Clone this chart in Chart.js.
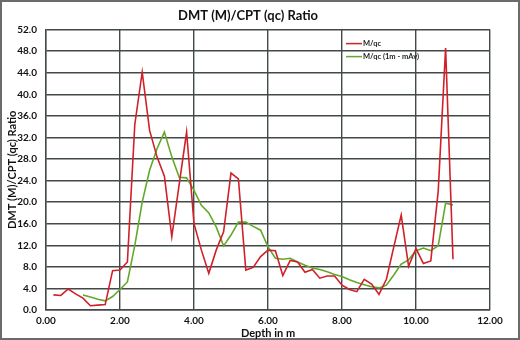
<!DOCTYPE html>
<html>
<head>
<meta charset="utf-8">
<script src="https://cdn.jsdelivr.net/npm/chart.js@4"></script>
<style>
  html, body { margin: 0; padding: 0; background: #fff; }
  #wrap { position: relative; width: 520px; height: 340px; box-sizing: border-box; border: 2px solid #6b6b6b; }
  canvas { position: absolute; left: -2px; top: -2px; }
</style>
</head>
<body>
<div id="wrap"><canvas id="myChart" width="520" height="340"></canvas></div>
<script>
// depth in m
const depthRatio = [0.2, 0.4, 0.6, 0.8, 1.0, 1.2, 1.4, 1.6, 1.8, 2.0, 2.2, 2.4, 2.6, 2.8, 3.0, 3.2, 3.4, 3.6, 3.8, 4.0,
  4.2, 4.4, 4.6, 4.8, 5.0, 5.2, 5.4, 5.6, 5.8, 6.0, 6.2, 6.4, 6.6, 6.8, 7.0, 7.2, 7.4, 7.6, 7.8, 8.0,
  8.2, 8.4, 8.6, 8.8, 9.0, 9.2, 9.4, 9.6, 9.8, 10.0, 10.2, 10.4, 10.6, 10.8, 11.0]
// M/qc
const ratioValues = [2.8, 2.7, 3.9, 3.0, 2.2, 0.8, 0.9, 1.0, 7.3, 7.4, 8.9, 34.4, 44.1, 33.3, 28.4, 24.8, 13.6, 23.3, 33.0, 16.0,
  11.1, 6.8, 11.1, 14.5, 25.4, 24.3, 7.4, 7.9, 9.9, 11.1, 11.0, 6.4, 9.2, 8.9, 7.0, 7.5, 5.9, 6.3, 6.3, 4.6,
  3.8, 3.4, 5.7, 4.8, 2.9, 5.7, 11.7, 17.6, 8.1, 11.4, 8.6, 9.1, 22.0, 48.6, 9.4]

const depthAvg = [1.0, 1.2, 1.4, 1.6, 1.8, 2.0, 2.2, 2.4, 2.6, 2.8, 3.0, 3.2, 3.4, 3.6, 3.8, 4.0,
  4.2, 4.4, 4.6, 4.8, 5.0, 5.2, 5.4, 5.6, 5.8, 6.0, 6.2, 6.4, 6.6, 6.8, 7.0, 7.2, 7.4, 7.6, 7.8, 8.0,
  8.2, 8.4, 8.6, 8.8, 9.0, 9.2, 9.4, 9.6, 9.8, 10.0, 10.2, 10.4, 10.6, 10.8, 11.0]
// M/qc (1m - mAv)
const avgValues = [2.8, 2.4, 2.0, 1.7, 2.5, 3.8, 5.2, 12.0, 20.0, 25.9, 29.9, 33.0, 28.4, 24.6, 24.5, 22.2,
  19.4, 18.0, 15.4, 11.9, 13.9, 16.3, 16.3, 15.5, 14.8, 11.7, 9.6, 9.4, 9.6, 8.9, 8.3, 7.8, 7.5, 7.1, 6.6, 6.2,
  5.6, 5.1, 4.7, 4.3, 4.1, 4.6, 6.5, 8.5, 9.3, 11.0, 11.5, 11.0, 11.9, 19.8, 19.5]

const seriesNames = ['M/qc', 'M/qc (1m - mAv)']
const seriesColors = ['#d0202a', '#62a82a']

const fontFam = 'Lato, "Liberation Sans", sans-serif'
const gridCol = '#434949'

// legend drawn inside the plot, top right
const insideLegend = {
  id: 'insideLegend',
  afterDraw(chart) {
    const ctx = chart.ctx
    const a = chart.chartArea
    ctx.save()
    ctx.font = 'bold 7.5px ' + fontFam
    ctx.textBaseline = 'middle'
    seriesNames.forEach((name, i) => {
      const y = a.top + 14 + i * 13
      const x = a.left + 300
      ctx.strokeStyle = seriesColors[i]
      ctx.lineWidth = 1.5
      ctx.beginPath()
      ctx.moveTo(x, y)
      ctx.lineTo(x + 16, y)
      ctx.stroke()
      ctx.fillStyle = '#222'
      ctx.fillText(name, x + 17, y)
    })
    ctx.restore()
  }
}

new Chart('myChart', {
  type: 'line',
  data: {
    datasets: [
      {
        label: seriesNames[0],
        data: depthRatio.map((d, i) => ({ x: d, y: ratioValues[i] })),
        borderColor: seriesColors[0],
        borderWidth: 1.6,
        pointRadius: 0,
        tension: 0
      },
      {
        label: seriesNames[1],
        data: depthAvg.map((d, i) => ({ x: d, y: avgValues[i] })),
        borderColor: seriesColors[1],
        borderWidth: 1.6,
        pointRadius: 0,
        tension: 0
      }
    ]
  },
  plugins: [insideLegend],
  options: {
    responsive: false,
    animation: false,
    layout: { padding: { left: 6, right: 30, top: 0, bottom: 0 } },
    plugins: {
      legend: { display: false },
      tooltip: { enabled: false },
      title: {
        display: true,
        text: 'DMT (M)/CPT (qc) Ratio',
        color: '#111',
        font: { family: fontFam, size: 13, weight: 'bold' },
        padding: { top: 8, bottom: 6 }
      }
    },
    scales: {
      x: {
        type: 'linear',
        min: 0,
        max: 12,
        ticks: {
          stepSize: 2,
          color: '#111',
          font: { family: fontFam, size: 10, weight: 'bold' },
          maxRotation: 0,
          padding: 5,
          callback: v => v.toFixed(2)
        },
        grid: { color: gridCol, lineWidth: 1.4, drawTicks: false },
        border: { color: gridCol, width: 1.4 },
        title: {
          display: true,
          text: 'Depth in m',
          color: '#111',
          font: { family: fontFam, size: 11, weight: 'bold' },
          padding: 0
        },
        afterFit: s => { s.height = 30 }
      },
      y: {
        min: 0,
        max: 52,
        ticks: {
          stepSize: 4,
          color: '#111',
          font: { family: fontFam, size: 10, weight: 'bold' },
          padding: 9,
          callback: v => v.toFixed(1)
        },
        grid: { color: gridCol, lineWidth: 1.4, drawTicks: false },
        border: { color: gridCol, width: 1.4 },
        title: {
          display: true,
          text: 'DMT (M)/CPT (qc) Ratio',
          color: '#111',
          font: { family: fontFam, size: 11, weight: 'bold' },
          padding: 0
        },
        afterFit: s => { s.width = 40 }
      }
    }
  }
})
</script>
</body>
</html>
